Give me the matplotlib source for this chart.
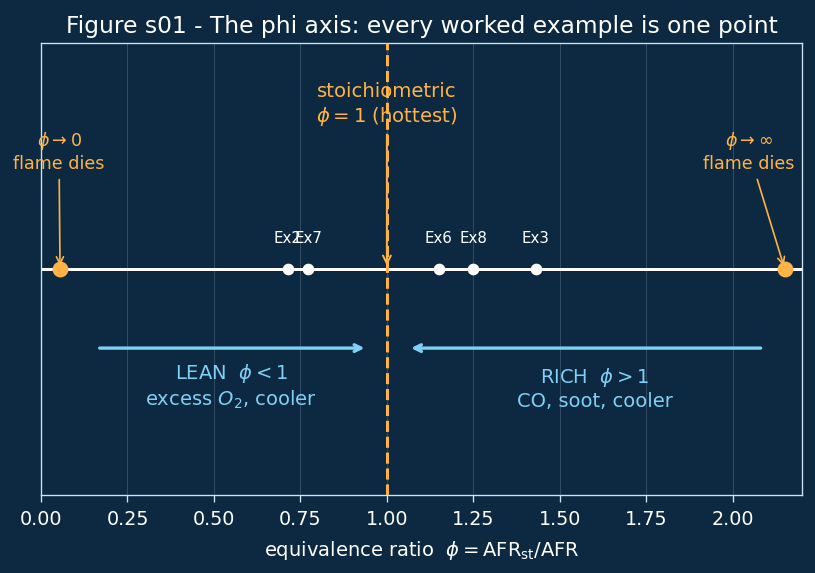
import matplotlib.pyplot as plt

# worked examples on the phi axis
ex_names = ['Ex2', 'Ex7', 'Ex6', 'Ex8', 'Ex3']
ex_phi = [0.714, 0.772, 1.15, 1.25, 1.43]
limit_phi = [0.055, 2.15]
x_ticks = [0.0, 0.25, 0.5, 0.75, 1.0, 1.25, 1.5, 1.75, 2.0]

bg = '#0c2941'
orange = '#ffb347'
blue = '#7fd0f7'
edge = '#cfe3f0'

fig = plt.figure(figsize=(815 / 120, 573 / 120), dpi=120, facecolor=bg)
ax = fig.add_axes([41 / 815, 78 / 573, 761 / 815, 452 / 573])
ax.set_facecolor(bg)

ax.set_xlim(0, 2.2)
ax.set_ylim(-1, 1)
ax.set_xticks(x_ticks)
ax.set_xticklabels(['%.2f' % v for v in x_ticks])
ax.set_yticks([])
ax.grid(axis='x', color='#8aa0b4', alpha=0.3, lw=0.6)
ax.set_axisbelow(True)
for s in ax.spines.values():
    s.set_color(edge)
ax.tick_params(colors=edge, labelcolor='white', labelsize=11.5, length=4, pad=5)

ax.axhline(0, color='white', lw=1.8, zorder=2)
ax.axvline(1.0, color=orange, lw=1.8, ls='--', zorder=3)

ax.plot(ex_phi, [0] * len(ex_phi), 'o', color='white', ms=6, zorder=4)
for n, p in zip(ex_names, ex_phi):
    ax.text(p, 0.1, n, color='white', ha='center', va='bottom', fontsize=9)

ax.plot(limit_phi, [0, 0], 'o', color=orange, ms=8.5, zorder=4)

ax.annotate('$\\phi\\rightarrow 0$\nflame dies', xy=(limit_phi[0], 0.0),
            xytext=(0.052, 0.52), ha='center', va='center', color=orange,
            fontsize=10.5, arrowprops=dict(arrowstyle='->', color=orange, lw=1.0))
ax.annotate('$\\phi\\rightarrow\\infty$\nflame dies', xy=(limit_phi[1], 0.0),
            xytext=(2.046, 0.52), ha='center', va='center', color=orange,
            fontsize=10.5, arrowprops=dict(arrowstyle='->', color=orange, lw=1.0))
ax.annotate('stoichiometric\n$\\phi=1$ (hottest)', xy=(1.0, 0.0),
            xytext=(1.0, 0.725), ha='center', va='center', color=orange,
            fontsize=11.8, arrowprops=dict(arrowstyle='->', color=orange, lw=1.2))

ax.annotate('', xy=(0.945, -0.35), xytext=(0.16, -0.35),
            arrowprops=dict(arrowstyle='->', color=blue, lw=2.0))
ax.annotate('', xy=(1.06, -0.35), xytext=(2.09, -0.35),
            arrowprops=dict(arrowstyle='->', color=blue, lw=2.0))
ax.text(0.55, -0.52, 'LEAN  $\\phi<1$\nexcess $O_2$, cooler', color=blue,
        ha='center', va='center', fontsize=11.7)
ax.text(1.6, -0.53, 'RICH  $\\phi>1$\nCO, soot, cooler', color=blue,
        ha='center', va='center', fontsize=11.7)

ax.set_xlabel('equivalence ratio  $\\phi=\\mathrm{AFR_{st}/AFR}$', color='white',
              fontsize=11.7, labelpad=6)
ax.set_title('Figure s01 - The phi axis: every worked example is one point',
             color='white', fontsize=14)

fig.savefig('out.png', dpi=120, facecolor=bg)
